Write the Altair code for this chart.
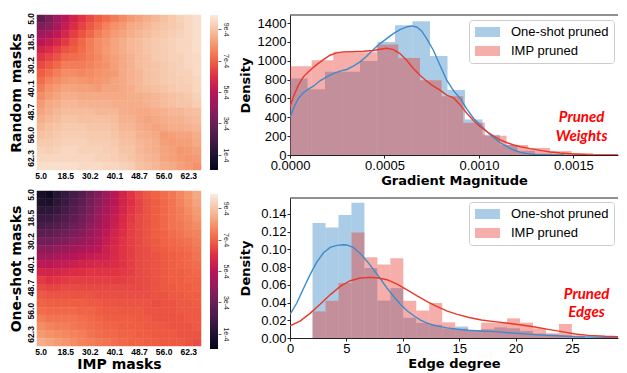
import altair as alt
import pandas as pd

# ---------------- heatmap data (values in units of 1e-4) ----------------
sparsity = ["5.0", "9.8", "14.3", "18.5", "22.6", "26.5", "30.2", "33.7", "37.0", "40.1",
            "43.1", "46.0", "48.7", "51.2", "53.7", "56.0", "58.2", "60.3", "62.3", "64.2"]
sparsity_ticks = ["5.0", "18.5", "30.2", "40.1", "48.7", "56.0", "62.3"]

random_masks = [
    [2.7, 3.5, 4.3, 5.0, 5.6, 6.1, 6.5, 6.9, 7.2, 7.5, 7.8, 8.1, 8.3, 8.5, 8.7, 8.9, 9.1, 9.3, 9.4, 9.6],
    [3.5, 3.8, 4.6, 5.3, 5.9, 6.4, 6.8, 7.2, 7.6, 7.9, 8.1, 8.4, 8.5, 8.7, 8.9, 9.0, 9.1, 9.2, 9.4, 9.6],
    [4.3, 4.6, 5.1, 5.7, 6.3, 6.7, 7.1, 7.5, 7.8, 8.1, 8.3, 8.5, 8.7, 8.8, 9.0, 9.1, 9.2, 9.3, 9.4, 9.6],
    [5.0, 5.3, 5.7, 6.2, 6.7, 7.1, 7.5, 7.8, 8.0, 8.3, 8.5, 8.7, 8.8, 9.0, 9.1, 9.2, 9.3, 9.4, 9.4, 9.6],
    [5.6, 5.9, 6.3, 6.7, 6.9, 7.2, 7.5, 7.8, 8.1, 8.3, 8.5, 8.7, 8.8, 9.0, 9.1, 9.2, 9.3, 9.4, 9.4, 9.6],
    [6.1, 6.4, 6.7, 7.1, 7.2, 7.3, 7.5, 7.7, 8.0, 8.2, 8.4, 8.6, 8.8, 8.9, 9.1, 9.2, 9.3, 9.3, 9.4, 9.5],
    [6.5, 6.8, 7.1, 7.5, 7.5, 7.5, 7.6, 7.8, 7.9, 8.2, 8.4, 8.6, 8.8, 8.9, 9.0, 9.1, 9.2, 9.3, 9.4, 9.5],
    [6.9, 7.2, 7.5, 7.8, 7.8, 7.7, 7.8, 7.9, 8.0, 8.1, 8.4, 8.6, 8.7, 8.9, 9.0, 9.1, 9.2, 9.3, 9.3, 9.5],
    [7.2, 7.6, 7.8, 8.0, 8.1, 8.0, 7.9, 8.0, 8.1, 8.3, 8.4, 8.6, 8.7, 8.9, 9.0, 9.1, 9.2, 9.2, 9.3, 9.4],
    [7.5, 7.9, 8.1, 8.3, 8.3, 8.2, 8.2, 8.1, 8.3, 8.3, 8.4, 8.5, 8.7, 8.8, 8.9, 9.0, 9.1, 9.2, 9.2, 9.4],
    [7.8, 8.1, 8.3, 8.5, 8.5, 8.4, 8.4, 8.4, 8.4, 8.4, 8.4, 8.5, 8.5, 8.6, 8.7, 8.8, 8.9, 9.0, 9.1, 9.3],
    [8.1, 8.4, 8.5, 8.7, 8.7, 8.6, 8.6, 8.6, 8.6, 8.5, 8.5, 8.5, 8.5, 8.6, 8.7, 8.8, 8.9, 9.0, 9.0, 9.2],
    [8.3, 8.5, 8.7, 8.8, 8.8, 8.8, 8.8, 8.7, 8.7, 8.7, 8.5, 8.5, 8.4, 8.4, 8.5, 8.6, 8.7, 8.7, 8.8, 8.9],
    [8.5, 8.7, 8.8, 9.0, 9.0, 8.9, 8.9, 8.9, 8.9, 8.8, 8.6, 8.6, 8.4, 8.3, 8.4, 8.5, 8.6, 8.6, 8.7, 8.8],
    [8.7, 8.9, 9.0, 9.1, 9.1, 9.1, 9.0, 9.0, 9.0, 8.9, 8.7, 8.7, 8.5, 8.4, 8.3, 8.4, 8.5, 8.5, 8.6, 8.7],
    [8.9, 9.0, 9.1, 9.2, 9.2, 9.2, 9.1, 9.1, 9.1, 9.0, 8.8, 8.8, 8.6, 8.5, 8.4, 8.1, 8.2, 8.3, 8.3, 8.5],
    [9.1, 9.1, 9.2, 9.3, 9.3, 9.3, 9.2, 9.2, 9.2, 9.1, 8.9, 8.9, 8.7, 8.6, 8.5, 8.2, 8.1, 8.2, 8.2, 8.4],
    [9.3, 9.2, 9.3, 9.4, 9.4, 9.3, 9.3, 9.3, 9.2, 9.2, 9.0, 9.0, 8.7, 8.6, 8.5, 8.3, 8.2, 8.0, 8.1, 8.2],
    [9.4, 9.4, 9.4, 9.4, 9.4, 9.4, 9.4, 9.3, 9.3, 9.2, 9.1, 9.0, 8.8, 8.7, 8.6, 8.3, 8.2, 8.1, 8.0, 8.1],
    [9.6, 9.6, 9.6, 9.6, 9.6, 9.5, 9.5, 9.5, 9.4, 9.4, 9.3, 9.2, 8.9, 8.8, 8.7, 8.5, 8.4, 8.2, 8.1, 7.9],
]

oneshot_vs_imp = [
    [0.7, 0.4, 1.1, 1.5, 2.0, 2.5, 3.0, 3.6, 4.3, 5.0, 5.6, 6.1, 6.5, 6.8, 7.0, 7.2, 7.4, 7.7, 8.0, 8.4],
    [0.9, 0.8, 1.3, 1.7, 2.2, 2.7, 3.2, 3.8, 4.4, 5.0, 5.6, 6.0, 6.4, 6.7, 6.9, 7.1, 7.3, 7.6, 7.9, 8.3],
    [1.3, 1.3, 1.6, 2.0, 2.4, 2.9, 3.4, 4.0, 4.6, 5.2, 5.7, 6.1, 6.4, 6.7, 6.9, 7.1, 7.3, 7.5, 7.8, 8.1],
    [1.7, 1.7, 2.0, 2.3, 2.7, 3.1, 3.6, 4.2, 4.8, 5.3, 5.8, 6.2, 6.5, 6.7, 6.9, 7.1, 7.3, 7.5, 7.7, 8.0],
    [2.1, 2.2, 2.4, 2.7, 3.0, 3.4, 3.9, 4.4, 4.9, 5.4, 5.9, 6.3, 6.5, 6.7, 6.9, 7.1, 7.3, 7.4, 7.6, 7.8],
    [2.6, 2.7, 2.9, 3.1, 3.4, 3.7, 4.1, 4.6, 5.1, 5.6, 6.0, 6.3, 6.5, 6.7, 6.9, 7.0, 7.2, 7.3, 7.5, 7.6],
    [3.2, 3.2, 3.4, 3.6, 3.9, 4.1, 4.4, 4.8, 5.3, 5.7, 6.1, 6.3, 6.5, 6.7, 6.8, 7.0, 7.1, 7.2, 7.3, 7.5],
    [3.8, 3.8, 4.0, 4.2, 4.4, 4.6, 4.8, 5.0, 5.4, 5.8, 6.1, 6.3, 6.5, 6.6, 6.8, 6.9, 7.0, 7.1, 7.2, 7.4],
    [4.4, 4.4, 4.6, 4.8, 4.9, 5.1, 5.3, 5.4, 5.5, 5.8, 6.1, 6.3, 6.5, 6.6, 6.7, 6.8, 6.9, 7.0, 7.1, 7.3],
    [5.1, 5.0, 5.2, 5.3, 5.4, 5.6, 5.7, 5.8, 5.8, 5.9, 6.1, 6.3, 6.5, 6.6, 6.7, 6.8, 6.9, 7.0, 7.1, 7.2],
    [5.7, 5.6, 5.7, 5.8, 5.9, 6.0, 6.1, 6.1, 6.1, 6.1, 6.2, 6.3, 6.5, 6.6, 6.7, 6.8, 6.9, 6.9, 7.0, 7.1],
    [6.2, 6.0, 6.1, 6.2, 6.3, 6.3, 6.3, 6.3, 6.3, 6.3, 6.3, 6.4, 6.5, 6.6, 6.7, 6.8, 6.9, 6.9, 7.0, 7.0],
    [6.5, 6.4, 6.4, 6.5, 6.5, 6.5, 6.5, 6.5, 6.5, 6.5, 6.5, 6.5, 6.5, 6.6, 6.7, 6.8, 6.8, 6.9, 6.9, 7.0],
    [6.8, 6.7, 6.7, 6.7, 6.7, 6.7, 6.7, 6.6, 6.6, 6.6, 6.6, 6.6, 6.6, 6.6, 6.7, 6.7, 6.8, 6.8, 6.9, 6.9],
    [7.0, 6.9, 6.9, 6.9, 6.9, 6.9, 6.8, 6.8, 6.7, 6.7, 6.7, 6.7, 6.7, 6.7, 6.6, 6.7, 6.7, 6.8, 6.8, 6.9],
    [7.2, 7.1, 7.1, 7.1, 7.1, 7.0, 7.0, 6.9, 6.8, 6.8, 6.8, 6.8, 6.8, 6.7, 6.7, 6.7, 6.7, 6.8, 6.8, 6.8],
    [7.5, 7.3, 7.3, 7.3, 7.3, 7.2, 7.1, 7.0, 6.9, 6.9, 6.9, 6.9, 6.8, 6.8, 6.7, 6.7, 6.7, 6.7, 6.8, 6.8],
    [7.8, 7.6, 7.5, 7.5, 7.4, 7.3, 7.2, 7.1, 7.0, 7.0, 6.9, 6.9, 6.9, 6.8, 6.8, 6.8, 6.7, 6.7, 6.7, 6.8],
    [8.1, 7.9, 7.8, 7.7, 7.6, 7.5, 7.3, 7.2, 7.1, 7.1, 7.0, 7.0, 6.9, 6.9, 6.8, 6.8, 6.8, 6.7, 6.7, 6.7],
    [8.5, 8.3, 8.1, 8.0, 7.8, 7.6, 7.5, 7.4, 7.3, 7.2, 7.1, 7.0, 7.0, 6.9, 6.9, 6.8, 6.8, 6.8, 6.7, 6.6],
]

colorbar_ticks = [1e-4, 3e-4, 5e-4, 7e-4, 9e-4]
color_domain = [0.04e-4, 9.9e-4]
rocket = ["#03051A", "#221331", "#451C47", "#6A1F56", "#921C5B", "#B91657",
          "#DD2C45", "#F06043", "#F5936A", "#F6C1A2", "#FAEBDD"]

# ---------------- histogram data ----------------
series_names = ["One-shot pruned", "IMP pruned"]
bar_colors = ["#2d7fc0", "#e8352a"]
line_colors = ["#3d8bcd", "#e9392a"]

grad_oneshot_bin_width = 0.0000926
grad_oneshot_hist = [811, 698, 882, 882, 998, 1199, 1376, 1418, 1051, 690, 377, 215, 110, 45, 15, 5]
grad_imp_bin_width = 0.0001146
grad_imp_hist = [942, 1005, 1094, 1090, 1171, 1030, 794, 624, 342, 204, 106, 75, 42, 21, 10, 6]

grad_kde_oneshot_x = [0.0, 0.0000178, 0.0000443, 0.0000707, 0.0000972, 0.0001236, 0.0001589, 0.0001942,
                      0.0002295, 0.0002647, 0.0003, 0.0003353, 0.0003705, 0.0004058, 0.0004411, 0.0004763,
                      0.0005116, 0.0005469, 0.0005822, 0.0006174, 0.0006439, 0.0006703, 0.0006968, 0.0007233,
                      0.0007585, 0.0007938, 0.0008291, 0.000866, 0.0009014, 0.0009367, 0.000972, 0.0010073,
                      0.0010425, 0.0010778, 0.0011131, 0.0011484, 0.0011836, 0.0012189, 0.0012542, 0.0013071,
                      0.0013953, 0.00145]
grad_kde_oneshot_y = [399, 494, 600, 660, 698, 730, 787, 829, 864, 889, 907, 942, 988, 1048, 1118, 1182,
                      1235, 1288, 1330, 1358, 1369, 1358, 1316, 1235, 1111, 952, 794, 680, 600, 483, 388, 317,
                      247, 183, 130, 88, 53, 28, 14, 4, 0, 0]
grad_kde_imp_x = [0.0, 0.0000178, 0.0000443, 0.0000707, 0.000106, 0.0001413, 0.0001766, 0.0002118,
                  0.0002471, 0.0002824, 0.0003353, 0.0003882, 0.0004411, 0.0004763, 0.0005116, 0.0005469,
                  0.0005822, 0.0006174, 0.0006527, 0.000688, 0.0007233, 0.0007585, 0.0007938, 0.0008291,
                  0.000866, 0.0009014, 0.0009367, 0.000972, 0.0010073, 0.0010425, 0.0010778, 0.0011131,
                  0.0011484, 0.0011836, 0.0012189, 0.0012718, 0.0013247, 0.0013776, 0.0014305, 0.0015011,
                  0.0015716, 0.0016598, 0.0017745]
grad_kde_imp_y = [511, 617, 741, 829, 900, 959, 1012, 1058, 1083, 1094, 1097, 1101, 1108, 1122, 1132, 1118,
                  1076, 1005, 917, 847, 783, 730, 688, 635, 605, 529, 441, 363, 300, 247, 201, 159, 130, 106,
                  88, 67, 49, 32, 21, 11, 4, 1, 0]

deg_bin_start = 2.0
deg_bin_width = 1.15
deg_oneshot_hist = [0.1297, 0.1247, 0.1388, 0.1525, 0.0791, 0.0422, 0.0563, 0.0228, 0.017, 0.015, 0.011,
                    0.013, 0.009, 0.010, 0.012, 0.011, 0.008, 0.005, 0.004, 0.003, 0.002]
deg_imp_hist = [0.030, 0.042, 0.062, 0.1190, 0.0912, 0.083, 0.090, 0.042, 0.031, 0.0395, 0.0177,
                0.0105, 0.008, 0.0173, 0.0173, 0.0222, 0.0173, 0.011, 0.0053, 0.0158, 0.003]

deg_kde_oneshot_x = [0.0, 0.593, 1.187, 1.780, 2.374, 2.967, 3.561, 4.154, 4.748, 5.045, 5.638, 6.231,
                     6.825, 7.418, 8.012, 8.605, 9.199, 9.792, 10.386, 10.979, 11.573, 12.166, 12.760,
                     13.353, 13.947, 14.837, 15.79, 16.97, 18.16, 19.35, 20.53, 21.72, 22.91, 24.09,
                     25.28, 26.47, 27.95, 29.88]
deg_kde_oneshot_y = [0.0266, 0.0392, 0.0555, 0.0715, 0.0856, 0.0962, 0.1022, 0.1045, 0.1052, 0.1050,
                     0.1019, 0.0954, 0.0867, 0.0772, 0.0669, 0.0563, 0.0468, 0.0380, 0.0308, 0.0251,
                     0.0202, 0.0167, 0.0144, 0.0129, 0.0114, 0.0099, 0.0087, 0.0079, 0.0072, 0.0060,
                     0.0049, 0.0038, 0.0030, 0.0023, 0.0015, 0.0011, 0.0008, 0.0004]
deg_kde_imp_x = [0.0, 0.890, 1.780, 2.671, 3.561, 4.451, 5.341, 6.231, 7.122, 7.715, 8.605, 9.496,
                 10.386, 11.276, 12.166, 13.056, 13.947, 14.837, 15.79, 16.97, 18.16, 19.35, 20.53,
                 21.72, 22.91, 24.09, 25.28, 26.47, 27.95, 29.88]
deg_kde_imp_y = [0.0137, 0.0190, 0.0278, 0.0380, 0.0487, 0.0582, 0.0646, 0.0677, 0.0684, 0.0680,
                 0.0658, 0.0608, 0.0544, 0.0475, 0.0411, 0.0354, 0.0304, 0.0266, 0.0234, 0.0203,
                 0.0185, 0.0166, 0.0147, 0.0124, 0.0098, 0.0072, 0.0045, 0.0030, 0.0019, 0.0011]

grad_ticks = [0, 0.0005, 0.001, 0.0015]
grad_density_ticks = [0, 200, 400, 600, 800, 1000, 1200, 1400]
deg_ticks = [0, 5, 10, 15, 20, 25]
deg_density_ticks = [0, 0.02, 0.04, 0.06, 0.08, 0.10, 0.12, 0.14]

grad_note = {"x": [0.001543, 0.001543], "y": [403, 205], "t": ["Pruned", "Weights"]}
deg_note = {"x": [26.3, 26.3], "y": [0.050, 0.0293], "t": ["Pruned", "Edges"]}

# ---------------- styling ----------------
TICK_FONT = "Liberation Sans"
TITLE_FONT = "DejaVu Sans"
AX = "#222222"

HM_W, HM_H = 164, 155
HIST_W, HIST_H = 328, 140
GRAD_XMAX = 0.0017357   # visible part of the axis inside the window
DEG_XMAX = 29.09


def spacer(px):
    return alt.Chart(pd.DataFrame({"a": [0]})).mark_rule(strokeOpacity=0, stroke="white").encode(
        x=alt.value(0), y=alt.value(-px), y2=alt.value(0))


def heatmap(vals, ytitle, xtitle, top_pad):
    rows = []
    for i, r in enumerate(sparsity):
        for j, c in enumerate(sparsity):
            rows.append({"row": r, "col": c, "v": vals[i][j] * 1e-4})
    df = pd.DataFrame(rows)
    cscale = alt.Scale(domain=color_domain, range=rocket, interpolate="rgb", clamp=True)
    xaxis_kw = dict(values=sparsity_ticks, labelAngle=0, ticks=False, domain=False, labelPadding=1,
                    labelFont=TICK_FONT, labelFontSize=8.5, labelFontWeight="bold", labelColor="black")
    if xtitle:
        xaxis = alt.Axis(title=xtitle, titleFont=TITLE_FONT, titleFontSize=14, titleFontWeight="bold",
                         titleColor="black", titlePadding=2, **xaxis_kw)
    else:
        xaxis = alt.Axis(title=None, **xaxis_kw)
    yaxis = alt.Axis(values=sparsity_ticks, labelAngle=-90, ticks=False, domain=False, labelPadding=2,
                     labelFont=TICK_FONT, labelFontSize=8.5, labelFontWeight="bold", labelColor="black",
                     title=ytitle, titleFont=TITLE_FONT, titleFontSize=14, titleFontWeight="bold",
                     titleColor="black", titlePadding=3)
    rect = alt.Chart(df).mark_rect(strokeWidth=0.5).encode(
        x=alt.X("col:O", sort=sparsity, axis=xaxis, scale=alt.Scale(paddingInner=0, paddingOuter=0)),
        y=alt.Y("row:O", sort=sparsity, axis=yaxis, scale=alt.Scale(paddingInner=0, paddingOuter=0)),
        color=alt.Color("v:Q", scale=cscale, legend=None),
        stroke=alt.Stroke("v:Q", scale=cscale, legend=None),
    )
    layers = [rect]
    if top_pad:
        layers.append(spacer(top_pad))
    return alt.layer(*layers).properties(width=HM_W, height=HM_H)


def colorbar(top_pad):
    df = pd.DataFrame({"lo": [color_domain[0]], "hi": [color_domain[1]]})
    grad = alt.LinearGradient(
        gradient="linear", x1=0, x2=0, y1=1, y2=0,
        stops=[alt.GradientStop(color=c, offset=i / (len(rocket) - 1)) for i, c in enumerate(rocket)])
    bar = alt.Chart(df).mark_rect(color=grad).encode(
        x=alt.value(0), x2=alt.value(8),
        y=alt.Y("lo:Q", scale=alt.Scale(domain=color_domain, nice=False, zero=False),
                axis=alt.Axis(orient="right", values=colorbar_ticks, format=".0e", labelAngle=90,
                              labelAlign="center", labelBaseline="bottom",
                              tickSize=3, tickColor="#666666", domain=False, grid=False,
                              labelFont=TICK_FONT, labelFontSize=7, labelColor="#222222",
                              labelPadding=1, title=None)),
        y2="hi:Q",
    )
    layers = [bar]
    if top_pad:
        layers.append(spacer(top_pad))
    return alt.layer(*layers).properties(width=8, height=HM_H)


def hist(bins, kdes, xdomain, ydomain, xticks, xfmt, yticks, yfmt, xtitle, note, legend_y, top_pad,
         ytitle_pad):
    bar_rows = []
    for name, start, width, heights in bins:
        for k, h in enumerate(heights):
            bar_rows.append({"start": start + k * width, "end": start + (k + 1) * width,
                             "density": h, "series": name})
    bdf = pd.DataFrame(bar_rows)
    xs = alt.Scale(domain=xdomain, nice=False, zero=False)
    ys = alt.Scale(domain=ydomain, nice=False, zero=False)
    xaxis = alt.Axis(values=xticks, format=xfmt, labelFlush=False, labelOverlap=False, grid=False,
                     domainColor=AX, tickColor=AX, tickSize=3, labelPadding=1,
                     labelFont=TICK_FONT, labelFontSize=13, labelColor="black",
                     title=xtitle, titleFont=TITLE_FONT, titleFontSize=13, titleFontWeight="bold",
                     titleColor="black", titlePadding=2)
    yaxis = alt.Axis(values=yticks, format=yfmt, labelOverlap=False, grid=False,
                     domainColor=AX, tickColor=AX, tickSize=3, labelPadding=1,
                     labelFont=TICK_FONT, labelFontSize=13, labelColor="black",
                     title="Density", titleFont=TITLE_FONT, titleFontSize=13, titleFontWeight="bold",
                     titleColor="black", titlePadding=ytitle_pad)
    bars = alt.Chart(bdf).mark_rect(opacity=0.4, clip=True).encode(
        x=alt.X("start:Q", scale=xs, axis=xaxis),
        x2="end:Q",
        y=alt.Y("density:Q", scale=ys, axis=yaxis),
        y2=alt.datum(0),
        color=alt.Color("series:N", sort=series_names,
                        scale=alt.Scale(domain=series_names, range=bar_colors),
                        legend=alt.Legend(title=None, orient="none", legendX=179, legendY=legend_y,
                                          symbolType="M-0.857,-0.714H2.714V0.714H-0.857Z",
                                          symbolSize=196, symbolOpacity=0.4, symbolStrokeWidth=0,
                                          labelFont=TICK_FONT, labelFontSize=13, labelColor="black",
                                          labelOffset=23, padding=5, rowPadding=5,
                                          fillColor="white", strokeColor="#cccccc", cornerRadius=3)),
    )
    layers = [bars]
    for (kx, ky), col in zip(kdes, line_colors):
        kdf = pd.DataFrame({"x": kx, "y": ky})
        layers.append(alt.Chart(kdf).mark_line(color=col, strokeWidth=1.4, clip=True).encode(
            x=alt.X("x:Q", scale=xs, axis=xaxis), y=alt.Y("y:Q", scale=ys, axis=yaxis)))
    ndf = pd.DataFrame(note)
    layers.append(alt.Chart(ndf).mark_text(font="Lato", fontSize=15, fontStyle="italic",
                                           fontWeight="bold", color="#ff0000").encode(
        x=alt.X("x:Q", scale=xs, axis=xaxis), y=alt.Y("y:Q", scale=ys, axis=yaxis), text="t:N"))
    # top frame line (matplotlib spine)
    layers.append(alt.Chart(pd.DataFrame({"a": [0]})).mark_rule(color=AX, strokeWidth=1).encode(
        x=alt.value(0), x2=alt.value(HIST_W), y=alt.value(0)))
    if top_pad:
        layers.append(spacer(top_pad))
    return alt.layer(*layers).properties(width=HIST_W, height=HIST_H)


heat_top = heatmap(random_masks, "Random masks", None, 4)
heat_bot = heatmap(oneshot_vs_imp, "One-shot masks", "IMP masks", 0)
cb_top = colorbar(4)
cb_bot = colorbar(0)

hist_top = hist([(series_names[0], 0.0, grad_oneshot_bin_width, grad_oneshot_hist),
                 (series_names[1], 0.0, grad_imp_bin_width, grad_imp_hist)],
                [(grad_kde_oneshot_x, grad_kde_oneshot_y), (grad_kde_imp_x, grad_kde_imp_y)],
                [0, GRAD_XMAX], [0, 1485], grad_ticks, ".4f", grad_density_ticks, "d",
                "Gradient Magnitude", grad_note, 5, 7, 5)
hist_bot = hist([(series_names[0], deg_bin_start, deg_bin_width, deg_oneshot_hist),
                 (series_names[1], deg_bin_start, deg_bin_width, deg_imp_hist)],
                [(deg_kde_oneshot_x, deg_kde_oneshot_y), (deg_kde_imp_x, deg_kde_imp_y)],
                [0, DEG_XMAX], [0, 0.158], deg_ticks, "d", deg_density_ticks, ".2f",
                "Edge degree", deg_note, 4, 0, 8)

col1 = alt.vconcat(heat_top, heat_bot, spacing=8).resolve_scale(color="independent", stroke="independent")
col2 = alt.vconcat(cb_top, cb_bot, spacing=24)
col3 = alt.vconcat(hist_top, hist_bot, spacing=10).resolve_scale(color="independent")
left = alt.hconcat(col1, col2, spacing=8).resolve_scale(color="independent", stroke="independent")
chart = alt.hconcat(left, col3, spacing=10).resolve_scale(
    color="independent", stroke="independent").properties(padding=0).configure_view(strokeWidth=0)

chart.save("out.html", embed_options={"renderer": "svg", "actions": False})
